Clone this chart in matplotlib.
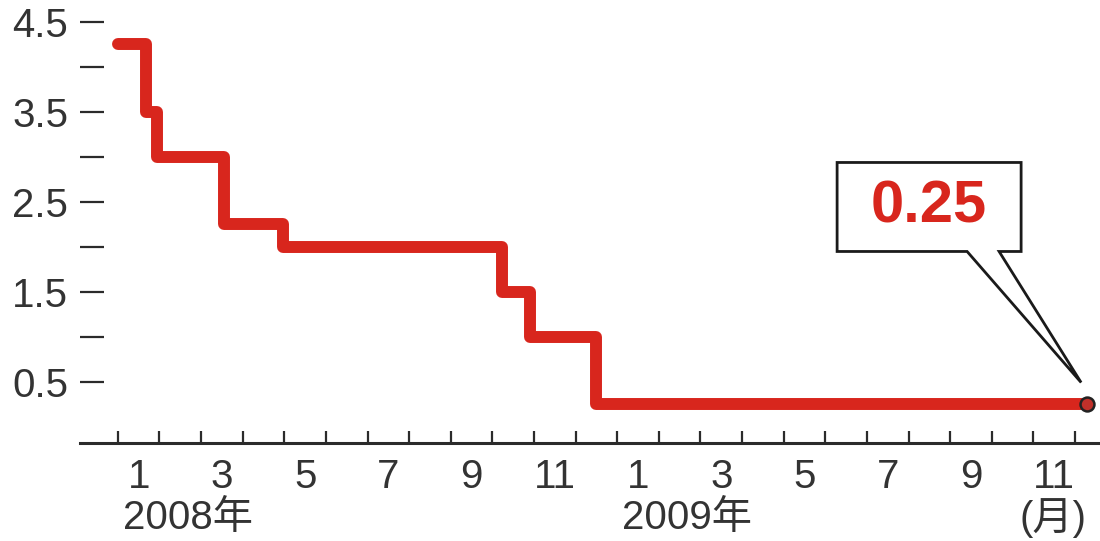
import matplotlib
matplotlib.use("Agg")
import matplotlib.pyplot as plt
from matplotlib.patches import Polygon
import pandas as pd

plt.rcParams['font.family'] = ['Liberation Sans', 'Noto Sans CJK SC', 'DejaVu Sans']

# ---- data ----
change_dates = ["2008-01-01", "2008-01-22", "2008-01-30", "2008-03-18", "2008-04-30",
                "2008-10-08", "2008-10-29", "2008-12-16", "2009-12-10"]
rates = [4.25, 3.50, 3.00, 2.25, 2.00, 1.50, 1.00, 0.25, 0.25]
month_labels = ["1", "3", "5", "7", "9", "11", "1", "3", "5", "7", "9", "11"]
month_label_pos = [0, 2, 4, 6, 8, 10, 12, 14, 16, 18, 20, 22]
year_labels = ["2008年", "2009年"]
ytick_vals = [0.5, 1.0, 1.5, 2.0, 2.5, 3.0, 3.5, 4.0, 4.5]
ytick_labels = ["0.5", "", "1.5", "", "2.5", "", "3.5", "", "4.5"]
callout_text = "0.25"

def to_month(s):
    d = pd.Timestamp(s)
    return (d.year - 2008) * 12 + (d.month - 1) + (d.day - 1) / d.days_in_month

xs = [to_month(s) for s in change_dates]

W, H = 1100, 541
FS = 29
fig = plt.figure(figsize=(W / 100, H / 100), dpi=100)
ax = fig.add_axes([80 / W, (H - 443) / H, 1 - 80 / W, 443 / H])
ax.set_xlim(-0.91, 23.6)
ax.set_ylim(-0.178, 4.744)

red = "#d8261d"
dark = "#2b2b2b"
ax.step(xs, rates, where="post", color=red, lw=8.6, solid_joinstyle="round",
        solid_capstyle="round", zorder=3)
ax.plot([xs[-1]], [rates[-1]], "o", ms=10, mfc="#c0302a", mec="#222222", mew=1.8, zorder=5)

for s in ["top", "right", "left"]:
    ax.spines[s].set_visible(False)
ax.spines["bottom"].set_linewidth(2.2)
ax.spines["bottom"].set_color(dark)

ax.set_yticks(ytick_vals)
ax.set_yticklabels(ytick_labels)
ax.tick_params(axis="y", direction="in", length=17, width=1.6, color=dark,
               labelsize=FS, labelcolor="#333333", pad=8.5)

ax.set_xticks(range(0, 24))
ax.set_xticklabels([])
ax.tick_params(axis="x", which="major", direction="in", length=8.5, width=1.6, color=dark)
ax.set_xticks([p + 0.5 for p in month_label_pos], minor=True)
ax.set_xticklabels(month_labels, minor=True)
ax.tick_params(axis="x", which="minor", length=0, labelsize=FS, labelcolor="#333333", pad=11)

# year labels and unit label
yr_y = (H - 518) / H
for i, lab in enumerate(year_labels):
    xd = 1.68 + 12 * i
    xf = ax.transData.transform((xd, 0))[0] / W
    fig.text(xf, yr_y, lab, ha="center", va="center", fontsize=FS, color="#333333")
xf = ax.transData.transform((22.48, 0))[0] / W
fig.text(xf, yr_y, "(月)", ha="center", va="center", fontsize=FS, color="#333333")

# callout box with wedge pointer
fig.canvas.draw()
tipx, tipy = ax.transData.transform((xs[-1], rates[-1]))
tipx -= 6
tipy += 22
bx0, bx1 = tipx - 244, tipx - 60
by0, by1 = tipy + 131, tipy + 220  # display coords: bottom / top of box
w0, w1 = tipx - 114, tipx - 82
pts = [(bx0, by0), (bx0, by1), (bx1, by1), (bx1, by0), (w1, by0), (tipx, tipy), (w0, by0)]
pts = [(px / W, py / H) for px, py in pts]
poly = Polygon(pts, closed=True, facecolor="white", edgecolor="#1a1a1a", lw=2.0,
               transform=fig.transFigure, zorder=10)
fig.add_artist(poly)
fig.text(((bx0 + bx1) / 2) / W, ((by0 + by1) / 2) / H, callout_text, ha="center",
         va="center", fontsize=43, fontweight="bold", color=red, zorder=11)

fig.savefig("out.png", dpi=100)
